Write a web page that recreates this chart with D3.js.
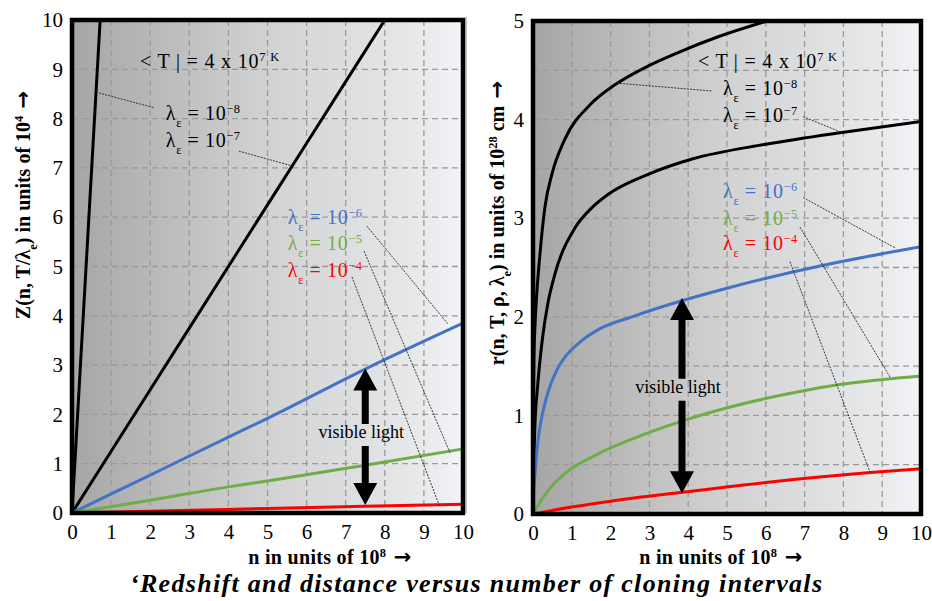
<!DOCTYPE html>
<meta charset="utf-8">
<head>
  <style>
    body { margin: 0; background: #fff; }
  </style>
</head>
<body>
  <svg id="viz" width="932" height="601" font-family="Liberation Serif"></svg>
  <script src="https://cdnjs.cloudflare.com/ajax/libs/d3/7.8.5/d3.min.js"></script>
  <script>
    // ticks
    var nTicks = d3.range(0, 11);
    var zTicks = d3.range(0, 11);
    var rTicks = d3.range(0, 6);
    var rGrid = d3.range(0.5, 5, 0.5);

    // left panel: Z(n, T/lambda) in units of 1e4
    var zLam8 = [[0, 0], [0.36, 5], [0.72, 10]];
    var zLam7 = [[0, 0], [2, 2.5], [4, 5], [6, 7.5], [8, 10]];
    var zLam6 = [[0, 0], [2, 0.77], [4, 1.54], [5, 1.92], [7.5, 2.92], [10, 3.85]];
    var zLam5 = [[0, 0], [2, 0.26], [4, 0.53], [5, 0.65], [7.5, 0.97], [10, 1.3]];
    var zLam4 = [[0, 0], [5, 0.09], [10, 0.18]];

    // right panel: r(n, T, rho, lambda) in units of 1e28 cm
    var rLam8 = [[0, 0], [0.005, 0.9], [0.02, 1.5], [0.05, 1.9], [0.1, 2.25], [0.16, 2.55], [0.31, 3.12],
      [0.49, 3.45], [0.82, 3.8], [1.47, 4.15], [2.14, 4.36], [3, 4.55], [3.74, 4.68], [4.77, 4.84], [6.03, 5.0]];
    var rLam7 = [[0, 0], [0.02, 0.5], [0.05, 0.9], [0.12, 1.3], [0.25, 1.8], [0.39, 2.15], [0.57, 2.44],
      [1.08, 2.9], [1.5, 3.1], [1.93, 3.24], [3, 3.45], [4.1, 3.6], [6, 3.75], [7.96, 3.87], [10, 3.98]];
    var rLam6 = [[0, 0], [0.01, 0.15], [0.04, 0.35], [0.08, 0.56], [0.14, 0.78], [0.22, 0.97], [0.39, 1.24],
      [0.6, 1.45], [0.82, 1.59], [1.2, 1.74], [1.68, 1.87], [2.55, 2.0], [3.9, 2.17], [5, 2.29], [7.45, 2.52], [10, 2.71]];
    var rLam5 = [[0, 0], [0.18, 0.12], [0.39, 0.24], [0.82, 0.41], [1.68, 0.61], [2.55, 0.76], [3.9, 0.95],
      [5.13, 1.09], [6.84, 1.24], [7.86, 1.31], [10, 1.4]];
    var rLam4 = [[0, 0], [1, 0.07], [2, 0.13], [3.84, 0.22], [6, 0.32], [8.7, 0.42], [10, 0.46]];

    var lamExp = ["8", "7", "6", "5", "4"];
    var lamColor = ["#000", "#000", "#4472c4", "#70ad47", "#ff0000"];

    var svg = d3.select("#viz");
    var defs = svg.append("defs");

    var grad = defs.append("linearGradient").attr("id", "bg");
    [[0, "#a5a5a5"], [0.1, "#afafaf"], [0.35, "#c5c5c6"], [0.5, "#d2d2d3"],
     [0.75, "#dfe0e2"], [0.9, "#e9eaec"], [1, "#f2f4f7"]].forEach(function (s) {
      grad.append("stop").attr("offset", s[0]).attr("stop-color", s[1]);
    });

    function sup(t, s) {
      t.append("tspan").attr("font-size", "0.62em").attr("baseline-shift", "super").text(s);
    }
    function sub(t, s) {
      t.append("tspan").attr("font-size", "0.62em").attr("baseline-shift", "sub").text(s);
    }
    function arrow(t, s) {
      t.append("tspan").attr("font-family", "DejaVu Sans").attr("font-size", "1.05em").text(s);
    }

    function lamLabel(g, x, y, exp, color) {
      var t = g.append("text").attr("x", x).attr("y", y).attr("font-size", 20)
        .attr("letter-spacing", 0.6).attr("fill", color);
      t.append("tspan").text("λ");
      sub(t, "ε");
      t.append("tspan").text(" = 10");
      sup(t, "−" + exp);
    }

    function drawPanel(opt) {
      var x = d3.scaleLinear([0, 10], [opt.left, opt.right]);
      var y = d3.scaleLinear([0, opt.ymax], [opt.bottom, opt.top]);
      var g = svg.append("g");

      g.append("rect").attr("x", opt.left).attr("y", opt.top)
        .attr("width", opt.right - opt.left).attr("height", opt.bottom - opt.top)
        .attr("fill", "url(#bg)");

      // grid
      g.append("g").selectAll("line").data(nTicks.slice(1, 10)).enter().append("line")
        .attr("x1", d => x(d)).attr("x2", d => x(d))
        .attr("y1", opt.top).attr("y2", opt.bottom)
        .attr("stroke", "#9a9a9a").attr("stroke-width", 1.3).attr("stroke-dasharray", "6,4");
      g.append("g").selectAll("line").data(opt.grid).enter().append("line")
        .attr("y1", d => y(d)).attr("y2", d => y(d))
        .attr("x1", opt.left).attr("x2", opt.right)
        .attr("stroke", "#9a9a9a").attr("stroke-width", 1.3).attr("stroke-dasharray", "6,4");

      // curves
      var clipId = "clip" + opt.left;
      defs.append("clipPath").attr("id", clipId).append("rect")
        .attr("x", opt.left).attr("y", opt.top)
        .attr("width", opt.right - opt.left).attr("height", opt.bottom - opt.top);
      var line = d3.line().x(d => x(d[0])).y(d => y(d[1])).curve(d3.curveMonotoneX);
      g.append("g").attr("clip-path", "url(#" + clipId + ")")
        .selectAll("path").data(opt.series).enter().append("path")
        .attr("d", line).attr("fill", "none")
        .attr("stroke", (d, i) => lamColor[i]).attr("stroke-width", 3);

      // annotations
      var ann = g.append("g");
      var T = ann.append("text").attr("x", x(opt.tLabel[0])).attr("y", y(opt.tLabel[1]))
        .attr("font-size", 20).attr("letter-spacing", 0.8);
      T.append("tspan").text("< T | = 4 x 10");
      sup(T, "7 K");
      opt.labels.forEach(function (p, i) {
        lamLabel(ann, x(p[0]), y(p[1]), lamExp[i], i < 2 ? "#000" : lamColor[i]);
      });
      ann.selectAll("line").data(opt.leaders).enter().append("line")
        .attr("x1", d => x(d[0])).attr("y1", d => y(d[1]))
        .attr("x2", d => x(d[2])).attr("y2", d => y(d[3]))
        .attr("stroke", "#222").attr("stroke-width", 0.9).attr("stroke-dasharray", "2,1.2");

      // visible light arrow
      var ax = x(opt.arrow[0]), yTop = y(opt.arrow[1]), yBot = y(opt.arrow[2]), yTxt = y(opt.arrow[3]);
      var sw = 3.5, hw = 12, hl = 22;
      g.append("path").attr("fill", "#000")
        .attr("d", "M" + ax + "," + yTop + "L" + (ax + hw) + "," + (yTop + hl) + "L" + (ax + sw) + "," + (yTop + hl) +
          "L" + (ax + sw) + "," + (yTxt - 14) + "L" + (ax - sw) + "," + (yTxt - 14) + "L" + (ax - sw) + "," + (yTop + hl) +
          "L" + (ax - hw) + "," + (yTop + hl) + "Z");
      g.append("path").attr("fill", "#000")
        .attr("d", "M" + ax + "," + yBot + "L" + (ax + hw) + "," + (yBot - hl) + "L" + (ax + sw) + "," + (yBot - hl) +
          "L" + (ax + sw) + "," + (yTxt + 8) + "L" + (ax - sw) + "," + (yTxt + 8) + "L" + (ax - sw) + "," + (yBot - hl) +
          "L" + (ax - hw) + "," + (yBot - hl) + "Z");
      g.append("text").attr("x", ax - 4).attr("y", yTxt).attr("text-anchor", "middle")
        .attr("font-size", 18).text("visible light");

      // frame
      g.append("rect").attr("x", opt.left).attr("y", opt.top)
        .attr("width", opt.right - opt.left).attr("height", opt.bottom - opt.top)
        .attr("fill", "none").attr("stroke", "#000").attr("stroke-width", 4.5);

      // axes
      var xa = g.append("g").attr("transform", "translate(0," + opt.bottom + ")")
        .call(d3.axisBottom(x).tickValues(nTicks).tickSize(0).tickPadding(11).tickFormat(d3.format("d")));
      var ya = g.append("g").attr("transform", "translate(" + opt.left + ",0)")
        .call(d3.axisLeft(y).tickValues(opt.yTicks).tickSize(0).tickPadding(opt.yPad).tickFormat(d3.format("d")));
      [xa, ya].forEach(function (a) {
        a.attr("font-family", "Liberation Serif").attr("font-size", 21);
        a.select(".domain").remove();
        a.selectAll("text").attr("fill", "#000");
      });

      // axis titles
      var xt = g.append("text").attr("x", opt.xTitleX).attr("y", 564).attr("text-anchor", "middle")
        .attr("font-size", 20).attr("letter-spacing", 0.3).attr("font-weight", "bold");
      xt.append("tspan").text("n in units of 10");
      sup(xt, "8");
      arrow(xt, " →");

      var yt = g.append("text").attr("transform", "translate(" + opt.yTitle[0] + "," + opt.yTitle[1] + ") rotate(-90)")
        .attr("text-anchor", "middle").attr("font-size", 20).attr("font-weight", "bold");
      opt.yTitleParts.forEach(function (p) {
        if (p[0] === "sub") sub(yt, p[1]);
        else if (p[0] === "sup") sup(yt, p[1]);
        else if (p[0] === "arrow") arrow(yt, p[1]);
        else yt.append("tspan").text(p[1]);
      });
    }

    drawPanel({
      left: 72, right: 463, top: 20, bottom: 513, ymax: 10,
      grid: zTicks.slice(1, 10), yTicks: zTicks, yPad: 9,
      series: [zLam8, zLam7, zLam6, zLam5, zLam4],
      tLabel: [1.74, 9.03],
      labels: [[2.4, 7.97], [2.4, 7.42], [5.52, 5.86], [5.52, 5.33], [5.52, 4.79]],
      leaders: [[0.69, 8.52, 2.1, 8.22], [4.27, 7.34, 5.63, 7.04], [7.54, 5.82, 9.62, 3.83],
        [7.47, 5.31, 9.67, 1.22], [7.16, 4.79, 9.41, 0.12]],
      arrow: [7.5, 2.93, 0.16, 1.52],
      xTitleX: 330, yTitle: [30, 205],
      yTitleParts: [["t", "Z(n, T/λ"], ["sub", "e"], ["t", ") in units of 10"], ["sup", "4"], ["arrow", " →"]]
    });

    drawPanel({
      left: 533, right: 921, top: 21, bottom: 514, ymax: 5,
      grid: rGrid, yTicks: rTicks, yPad: 9,
      series: [rLam8, rLam7, rLam6, rLam5, rLam4],
      tLabel: [4.25, 4.52],
      labels: [[4.9, 4.25], [4.9, 3.98], [4.9, 3.2], [4.9, 2.93], [4.9, 2.68]],
      leaders: [[2.16, 4.37, 4.61, 4.29], [6.96, 4.03, 7.96, 3.87], [6.96, 3.21, 9.33, 2.7],
        [6.88, 2.91, 9.2, 1.39], [6.62, 2.56, 8.69, 0.42]],
      arrow: [3.84, 2.19, 0.21, 1.23],
      xTitleX: 721, yTitle: [504, 223],
      yTitleParts: [["t", "r(n, T, ρ, λ"], ["sub", "e"], ["t", ") in units of 10"], ["sup", "28"], ["t", " cm"], ["arrow", " →"]]
    });

    // thin panel edge
    svg.append("line").attr("x1", 466).attr("x2", 466).attr("y1", 17).attr("y2", 513)
      .attr("stroke", "#888").attr("stroke-width", 1);

    svg.append("text").attr("x", 130).attr("y", 592)
      .attr("font-size", 26).attr("font-weight", "bold").attr("font-style", "italic")
      .attr("textLength", 692).attr("lengthAdjust", "spacing")
      .text("‘Redshift and distance versus number of cloning intervals");
  </script>
</body>
